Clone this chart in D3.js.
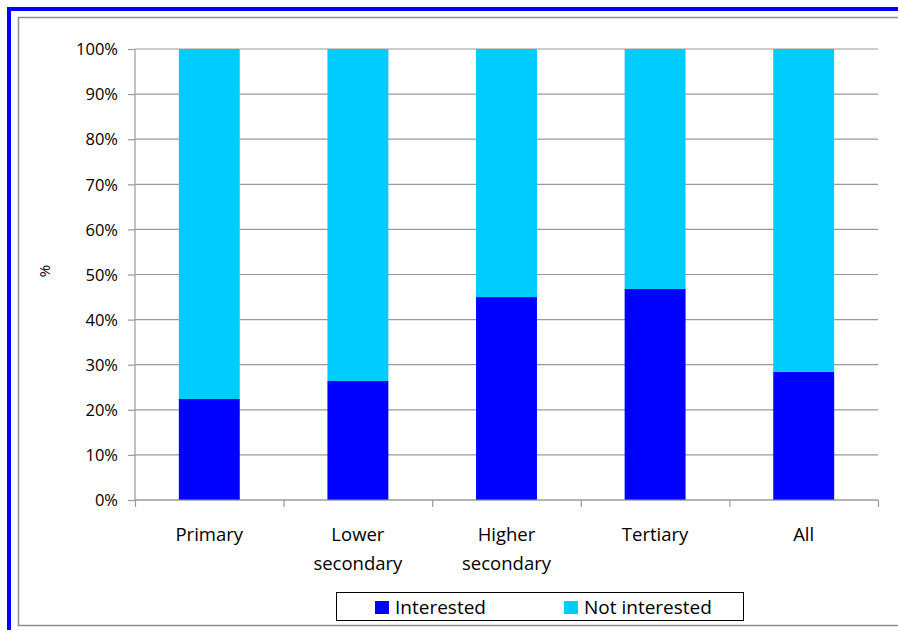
<!DOCTYPE html>
<html>
<head>
<meta charset="utf-8">
<script src="https://cdn.jsdelivr.net/npm/d3@7"></script>
<style>
  body { margin: 0; background: #fff; }
  svg text { font-family: "Open Sans", "Noto Sans", sans-serif; fill: #000; }
</style>
</head>
<body>
<div id="chart"></div>
<script>
// education levels and share of respondents (%)
var categories = [["Primary"], ["Lower", "secondary"], ["Higher", "secondary"], ["Tertiary"], ["All"]];
var interested = [22.4, 26.4, 45.0, 46.8, 28.4];
var notInterested = interested.map(function (v) { return 100 - v; });
var yTicks = [0, 10, 20, 30, 40, 50, 60, 70, 80, 90, 100];
var seriesNames = ["Interested", "Not interested"];
var colors = ["#0000ff", "#00ccff"];

var W = 898, H = 630;
var margin = { top: 49, left: 135, right: 20, bottom: 130 };
var width = 878 - margin.left, height = 500 - margin.top;

var svg = d3.select("#chart").append("svg")
    .attr("width", W).attr("height", H);

// outer frame
svg.append("rect").attr("x", 18.5).attr("y", 17.5).attr("width", W + 10).attr("height", 608)
    .attr("fill", "none").attr("stroke", "#8c8c8c").attr("stroke-width", 1.5);
svg.append("line").attr("x1", 7).attr("x2", W).attr("y1", 9).attr("y2", 9)
    .attr("stroke", "#0000ff").attr("stroke-width", 4);
svg.append("line").attr("x1", 9).attr("x2", 9).attr("y1", 7).attr("y2", H)
    .attr("stroke", "#0000ff").attr("stroke-width", 4);

var g = svg.append("g").attr("transform", "translate(" + margin.left + "," + margin.top + ")");

var x = d3.scaleBand().domain(d3.range(categories.length)).range([0, width]).paddingInner(0.59).paddingOuter(0.295);
var xEdge = d3.scaleLinear().domain([0, categories.length]).range([0, width]);
var y = d3.scaleLinear().domain([0, 100]).range([height, 0]);

// gridlines
g.selectAll(".grid").data(yTicks).enter().append("line")
    .attr("x1", 0).attr("x2", width)
    .attr("y1", function (d) { return y(d); }).attr("y2", function (d) { return y(d); })
    .attr("stroke", "#9a9a9a").attr("stroke-width", 1.2);

// stacked bars
var stack = categories.map(function (c, i) {
    return [[0, interested[i]], [interested[i], interested[i] + notInterested[i]]];
});
[0, 1].forEach(function (s) {
    g.selectAll(".bar" + s).data(stack).enter().append("rect")
        .attr("x", function (d, i) { return x(i); })
        .attr("width", x.bandwidth())
        .attr("y", function (d) { return y(d[s][1]); })
        .attr("height", function (d) { return y(d[s][0]) - y(d[s][1]); })
        .attr("fill", colors[s]);
});

// y axis
var yAxis = d3.axisLeft(y).tickValues(yTicks).tickSize(7).tickPadding(10)
    .tickFormat(function (d) { return d + "%"; });
var ya = g.append("g").call(yAxis);
ya.select(".domain").attr("stroke", "#9a9a9a").attr("stroke-width", 1.2).attr("d", "M0," + height + "V0");
ya.selectAll(".tick line").attr("stroke", "#9a9a9a").attr("stroke-width", 1.2);
ya.selectAll("text").style("font-size", "16.5px").attr("dy", "0.35em");

// x axis with ticks on category boundaries
var xa = g.append("g").attr("transform", "translate(0," + height + ")")
    .call(d3.axisBottom(xEdge).tickValues(d3.range(categories.length + 1)).tickSize(7).tickFormat(""));
xa.select(".domain").attr("stroke", "#9a9a9a").attr("stroke-width", 1.2).attr("d", "M0,0H" + width);
xa.selectAll(".tick line").attr("stroke", "#9a9a9a").attr("stroke-width", 1.2);

categories.forEach(function (lines, i) {
    var t = g.append("text").attr("x", x(i) + x.bandwidth() / 2).attr("y", height + 41)
        .attr("text-anchor", "middle").style("font-size", "18.5px");
    lines.forEach(function (l, k) {
        t.append("tspan").attr("x", x(i) + x.bandwidth() / 2).attr("dy", k ? 29 : 0).text(l);
    });
});

// axis title
svg.append("text").attr("transform", "translate(50,271) rotate(-90)")
    .attr("text-anchor", "middle").style("font-size", "15px").text("%");

// legend
var lg = svg.append("g").attr("transform", "translate(336,592)");
lg.append("rect").attr("x", 0.5).attr("y", 0.5).attr("width", 407).attr("height", 28)
    .attr("fill", "#fff").attr("stroke", "#000").attr("stroke-width", 1);
var lx = [39, 228];
seriesNames.forEach(function (n, i) {
    lg.append("rect").attr("x", lx[i]).attr("y", 9).attr("width", 14).attr("height", 13).attr("fill", colors[i]);
    lg.append("text").attr("x", lx[i] + 20).attr("y", 22).style("font-size", "19px").text(n);
});
</script>
</body>
</html>
